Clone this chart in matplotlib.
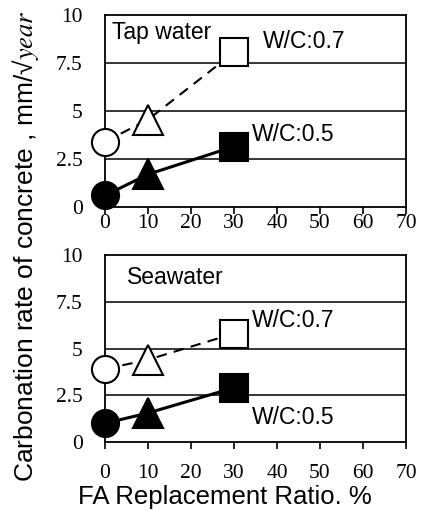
import matplotlib
matplotlib.use('Agg')
import matplotlib.pyplot as plt

plt.rcParams['font.family'] = ['Liberation Sans', 'DejaVu Sans']
plt.rcParams['mathtext.fontset'] = 'stix'

fa_ratio = [0, 10, 30]

# Tap water
tap_wc07 = [3.4, 4.55, 8.05]
tap_wc05 = [0.6, 1.7, 3.15]

# Seawater
sea_wc07 = [3.9, 4.4, 5.8]
sea_wc05 = [1.0, 1.55, 2.9]

panels = [
    ('Tap water', tap_wc07, tap_wc05),
    ('Seawater', sea_wc07, sea_wc05),
]
markers = ['o', '^', 's']
msizes = [19.5, 21, 20]

fig = plt.figure(figsize=(4.24, 5.14), dpi=100)
ax_top = fig.add_axes([105/424, 1 - 207/514, 301/424, 192/514])
ax_bot = fig.add_axes([105/424, 1 - 442/514, 301/424, 187/514])

for ax, (name, wc07, wc05) in zip([ax_top, ax_bot], panels):
    ax.plot(fa_ratio, wc07, color='black', lw=1.5, ls=(0, (5, 3.5)), zorder=2)
    ax.plot(fa_ratio, wc05, color='black', lw=2.2, zorder=2)
    for x, y, m, s in zip(fa_ratio, wc07, markers, msizes):
        ax.plot(x, y, marker=m, ms=s, mfc='white', mec='black', mew=1.5,
                ls='none', zorder=3, clip_on=False)
    for x, y, m, s in zip(fa_ratio, wc05, markers, msizes):
        ax.plot(x, y, marker=m, ms=s, mfc='black', mec='black', mew=1.5,
                ls='none', zorder=3, clip_on=False)

    ax.set_xlim(0, 70)
    ax.set_ylim(0, 10)
    ax.set_xticks(range(0, 71, 10))
    ax.set_yticks([0, 2.5, 5, 7.5, 10])
    ax.set_yticklabels(['0', '2.5', '5', '7.5', '10'])
    for yv in [2.5, 5, 7.5]:
        ax.axhline(yv, color='black', lw=1.1, zorder=1)
    for sp in ax.spines.values():
        sp.set_linewidth(1.3)
        sp.set_color('black')
    ax.tick_params(axis='y', length=0, pad=16, labelsize=15.5)
    ax.tick_params(axis='x', length=5, width=1.2, direction='out', labelsize=15.5)
    for lab in ax.get_xticklabels() + ax.get_yticklabels():
        lab.set_family('Liberation Serif')

ax_top.tick_params(axis='x', pad=0)
ax_bot.tick_params(axis='x', pad=11)

ax_top.text(1.6, 9.1, 'Tap water', fontsize=16.5, va='center', ha='left')
ax_top.text(36.7, 8.6, 'W/C:0.7', fontsize=16.5, va='center', ha='left')
ax_top.text(34.2, 3.8, 'W/C:0.5', fontsize=16.5, va='center', ha='left')
ax_bot.text(5.1, 8.8, 'Seawater', fontsize=16.5, va='center', ha='left')
ax_bot.text(34.2, 6.5, 'W/C:0.7', fontsize=16.5, va='center', ha='left')
ax_bot.text(34.2, 1.3, 'W/C:0.5', fontsize=16.5, va='center', ha='left')

fig.text(225/424, 1 - 497/514, 'FA Replacement Ratio. %', fontsize=18.5,
         ha='center', va='center')
fig.text(26/424, 1 - 246/514,
         'Carbonation rate of concrete , mm/\u221a$\\mathit{year}$',
         fontsize=19, rotation=90, ha='center', va='center')

fig.savefig('out.png', dpi=100)
